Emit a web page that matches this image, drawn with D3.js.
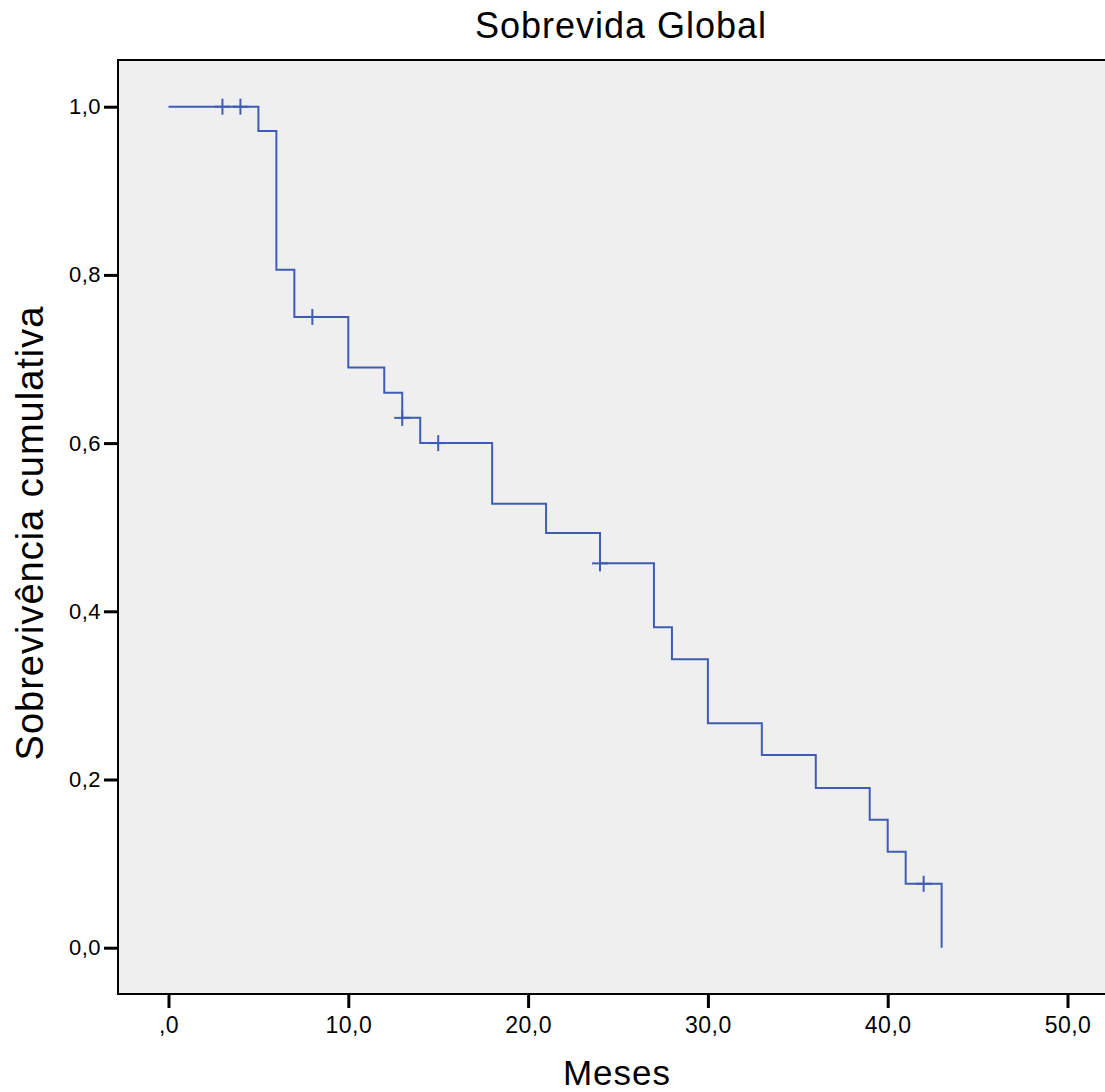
<!DOCTYPE html>
<html lang="pt">
<head>
<meta charset="UTF-8">
<title>Sobrevida Global</title>
<script src="https://d3js.org/d3.v7.min.js"></script>
<style>
    body { margin: 0; background: #fff; }
    svg text { font-family: "Liberation Sans", Arial, sans-serif; fill: #000; }
</style>
</head>
<body>
<div id="chart"></div>
<script>
// Kaplan-Meier steps (months, cumulative survival)
const eventTimes = [0, 5, 6, 7, 10, 12, 13, 14, 18, 21, 24, 27, 28, 30, 33, 36, 39, 40, 41, 43];
const survival   = [1.0, 0.971, 0.806, 0.750, 0.690, 0.660, 0.630, 0.600, 0.528, 0.493, 0.457, 0.381, 0.343, 0.267, 0.229, 0.190, 0.152, 0.114, 0.076, 0.0];
// censored observations
const censorTimes = [3, 4, 8, 13, 15, 24, 42];
const xTicks = [0, 10, 20, 30, 40, 50];
const yTicks = [0, 0.2, 0.4, 0.6, 0.8, 1.0];

const width = 1105, height = 1092;
const frame = { left: 118, top: 60, right: 1110, bottom: 994 };

const svg = d3.select('#chart').append('svg')
    .attr('width', width)
    .attr('height', height);

const x = d3.scaleLinear().domain([0, 50]).range([168.5, 1067.5]);
const y = d3.scaleLinear().domain([0, 1]).range([947.7, 106.7]);

// comma decimals, SPSS style (",0" for zero on the x axis)
const comma = d => d3.format('.1f')(d).replace('.', ',');

// plot background
svg.append('rect')
    .attr('x', frame.left).attr('y', frame.top)
    .attr('width', frame.right - frame.left)
    .attr('height', frame.bottom - frame.top)
    .attr('fill', '#efefef')
    .attr('stroke', '#000')
    .attr('stroke-width', 2);

// x axis
const xAxis = d3.axisBottom(x).tickValues(xTicks).tickSize(14).tickPadding(6)
    .tickFormat(d => d === 0 ? ',0' : comma(d));
const gx = svg.append('g').attr('transform', `translate(0,${frame.bottom})`).call(xAxis);
gx.select('.domain').remove();
gx.selectAll('.tick line').attr('stroke', '#000').attr('stroke-width', 3);
gx.selectAll('.tick text').attr('font-size', 23).attr('letter-spacing', 0.5).attr('y', 39).attr('dy', 0);

// y axis
const yAxis = d3.axisLeft(y).tickValues(yTicks).tickSize(14).tickPadding(3)
    .tickFormat(comma);
const gy = svg.append('g').attr('transform', `translate(${frame.left},0)`).call(yAxis);
gy.select('.domain').remove();
gy.selectAll('.tick line').attr('stroke', '#000').attr('stroke-width', 3);
gy.selectAll('.tick text').attr('font-size', 22).attr('letter-spacing', 0.5);

// survival curve
const steps = eventTimes.map((t, i) => ({ t, s: survival[i] }));
const line = d3.line()
    .x(d => x(d.t))
    .y(d => y(d.s))
    .curve(d3.curveStepAfter);

svg.append('path')
    .datum(steps)
    .attr('fill', 'none')
    .attr('stroke', '#3f5db5')
    .attr('stroke-width', 2)
    .attr('d', line);

// censor marks
const survAt = t => {
    let s = 1;
    steps.forEach(d => { if (d.t <= t) s = d.s; });
    return s;
};
const cg = svg.append('g').attr('stroke', '#3f5db5').attr('stroke-width', 2);
censorTimes.forEach(t => {
    const cx = x(t), cy = y(survAt(t));
    cg.append('line').attr('x1', cx).attr('x2', cx).attr('y1', cy - 8).attr('y2', cy + 8);
    cg.append('line').attr('x1', cx - 8).attr('x2', cx + 8).attr('y1', cy).attr('y2', cy);
});

// title and axis labels
svg.append('text')
    .attr('x', 621).attr('y', 38)
    .attr('text-anchor', 'middle')
    .attr('font-size', 36)
    .attr('letter-spacing', 1)
    .text('Sobrevida Global');

svg.append('text')
    .attr('x', 617).attr('y', 1085)
    .attr('text-anchor', 'middle')
    .attr('font-size', 35)
    .attr('letter-spacing', 1)
    .text('Meses');

svg.append('text')
    .attr('transform', 'translate(43,533) rotate(-90)')
    .attr('text-anchor', 'middle')
    .attr('font-size', 38)
    .attr('letter-spacing', 1)
    .text('Sobrevivência cumulativa');
</script>
</body>
</html>
